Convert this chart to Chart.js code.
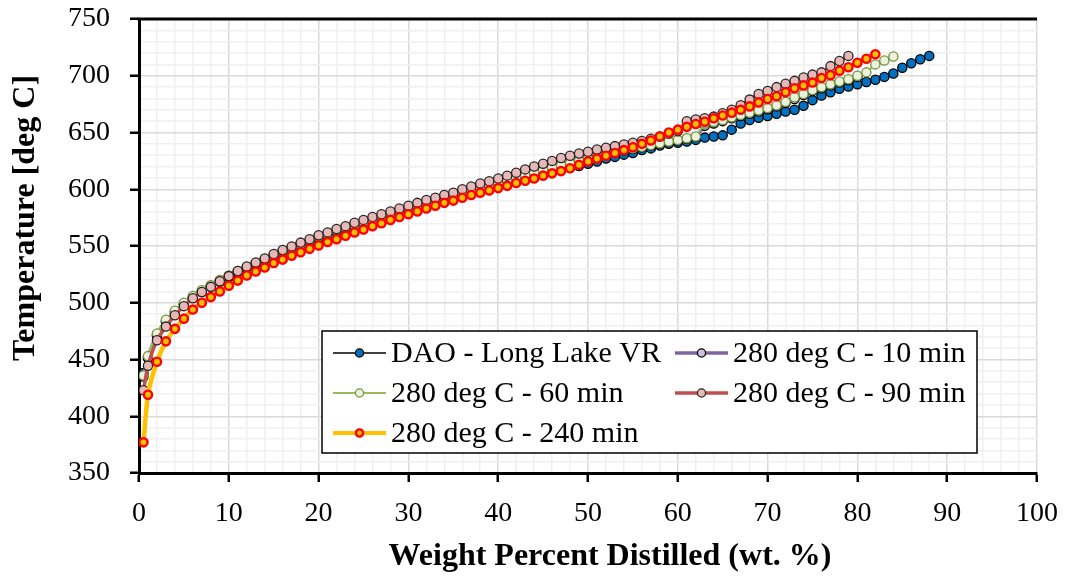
<!DOCTYPE html>
<html><head><meta charset="utf-8">
<script src="https://cdn.jsdelivr.net/npm/chart.js@4.4.1/dist/chart.umd.min.js"></script>
<style>html,body{margin:0;padding:0;background:#fff}#wrap{width:1067px;height:579px;position:relative}</style>
</head><body><div id="wrap"><canvas id="c" width="1067" height="579"></canvas></div>
<script>
// Weight percent distilled (x) shared by all series
const distilled = [0.5,1,2,3,4,5,6,7,8,9,10,11,12,13,14,15,16,17,18,19,20,21,22,23,24,25,26,27,28,29,30,31,32,33,34,35,36,37,38,39,40,41,42,43,44,45,46,47,48,49,50,51,52,53,54,55,56,57,58,59,60,61,62,63,64,65,66,67,68,69,70,71,72,73,74,75,76,77,78,79,80,81,82,83,84,85,86,87,88];

const daoLongLake = [438,451,471,483,491.5,498.5,504.5,509.5,514,518.5,522.5,526.5,530,533.5,537,540.5,544,547,550,553,556.5,559,562,564.5,567,569.5,572,574.5,577,579.5,582,584,586.5,588.5,591,593,595,597,599,601,603,605,607,609,611,613,615,617,619,620.5,622.5,624.5,627,628.5,630.5,632,634.5,636,638.5,640,641,642,643.5,645.5,646.5,647.5,652.5,658,661,663,664.5,666.5,668.5,670,673.5,678.5,682.5,685.5,688.5,690.5,692.5,694.5,696.5,699,702,707,711,714.5,717.5];

const c280min10 = [435,452,472,484,492,499,505,510,515,519.5,523.5,527.5,531,534.5,538,541.5,545,548,551.5,554.5,558,560.5,563.5,566,568.5,571,573.5,576,578.5,581,583.5,585.5,588,590,592.5,594.5,596.5,598.5,601,603,605.5,607.5,610,612,614.5,616.5,618.5,620.5,622.5,624.5,626.5,628.5,630.5,632,634,635.5,637,638.5,640,641.5,643,644.5,646,656,658,660,662.5,664.5,666.5,668.5,670.5,673,676,679.5,683,686.5,689,691.5,694,696,699];

const c280min60 = [436,453,473,485,493,500,506,511,515.5,520,524,528,531.5,535,538.5,542,545.5,548.5,552,555,558.5,561,564,566.5,569,571.5,574,576.5,579,581.5,584,586,588.5,590.5,593,595,597,599,601.5,603.5,606,608,610.5,612.5,615,617,619,621,623,625,627,629,631,632.5,634.5,636,637.5,639,640.5,642,643.5,645,646.5,658,659.5,661,663.5,665.5,667.5,669.5,671.5,674,677,681,684,687.5,690,692.5,695,697,700,703,710,713.5,717];

const c280min90 = [423,444.5,467,479,489,497,504,509.5,514,519,523.5,528,532,535.5,539,543,546.5,549.5,553,556,559.5,562,565,567.5,570.5,573,575.5,578,580.5,583,585.5,588,590.5,592.5,595,597,600,602.5,605,607,609.5,612,614.5,617.5,620,622.5,625,627.5,629.5,631.5,633,635,636.5,638,639.5,641,642.5,644.5,646.5,649,651,660,661.5,662.5,664,667,670,674,679,684,686.5,690,693,695.5,698.5,701,703,708.5,713,717.5];

const c280min240 = [377,419,448,466,477,486,494,500,505,510,515,519.5,524,527.5,531,535,538,541.5,544.5,547.5,550.5,553.5,556,559,562,564.5,567.5,570,573,575.5,578,580.5,583,585.5,588,590,592.5,595,597,599,601,603,605.5,607.5,609.5,612,614,616,618.5,621.5,624.5,627,629.5,632,634.5,637,640,643,646.5,650,652.5,655,657.5,659.5,662.5,665,667.5,670,673,676.5,679.5,682,685.5,689,691.5,694,698,700.5,704.5,707.5,711.5,715,719];

const seriesNames = ['DAO - Long Lake VR','280 deg C - 10 min','280 deg C - 60 min','280 deg C - 90 min','280 deg C - 240 min'];
const xTitle = 'Weight Percent Distilled (wt. %)';
const yTitle = 'Temperature [deg C]';

const pts = arr => arr.map((y, i) => ({x: distilled[i], y}));

const styles = [
  {line:'#000000', lw:1.5, fill:'#0070C0', border:'#000000', bw:1.3, r:4.6},
  {line:'#8064A2', lw:3.5, fill:'#CCC1DA', border:'#000000', bw:1.3, r:4.6},
  {line:'#9BBB59', lw:2.2, fill:'#EBF1DE', border:'#77933C', bw:1.3, r:4.6},
  {line:'#C0504D', lw:3.5, fill:'#E6B9B8', border:'#262626', bw:1.3, r:4.6},
  {line:'#FFC000', lw:4.5, fill:'#FFC000', border:'#FF0000', bw:2.4, r:4.1}
];
const allData = [daoLongLake, c280min10, c280min60, c280min90, c280min240];

const datasets = allData.map((d, i) => ({
  label: seriesNames[i],
  data: pts(d),
  borderColor: styles[i].line,
  borderWidth: styles[i].lw,
  pointBackgroundColor: styles[i].fill,
  pointBorderColor: styles[i].border,
  pointBorderWidth: styles[i].bw,
  pointRadius: styles[i].r,
  pointHoverRadius: styles[i].r,
  tension: 0.2,
  order: 5 - i,
  fill: false
}));

const serif = "'Times New Roman', 'Liberation Serif', serif";

const overlay = {
  id: 'overlay',
  afterDraw(chart) {
    const ctx = chart.ctx;
    const a = chart.chartArea;
    ctx.save();
    // top border
    ctx.strokeStyle = '#000'; ctx.lineWidth = 3;
    ctx.beginPath(); ctx.moveTo(a.left - 1.5, a.top); ctx.lineTo(a.right, a.top); ctx.stroke();
    // axis titles
    ctx.fillStyle = '#000';
    ctx.font = 'bold 32px ' + serif;
    ctx.textAlign = 'center'; ctx.textBaseline = 'middle';
    ctx.fillText(xTitle, 610, 557);
    ctx.save();
    ctx.translate(26, 218); ctx.rotate(-Math.PI / 2);
    ctx.fillText(yTitle, 0, 0);
    ctx.restore();
    // legend
    const bx = 322, by = 331, bw = 655, bh = 122;
    ctx.fillStyle = '#fff'; ctx.fillRect(bx, by, bw, bh);
    ctx.strokeStyle = '#000'; ctx.lineWidth = 1.5; ctx.strokeRect(bx, by, bw, bh);
    const pos = [[333,353],[675,353],[333,393],[675,393],[333,433]];
    ctx.font = '30px ' + serif; ctx.textAlign = 'left'; ctx.textBaseline = 'middle';
    pos.forEach((p, i) => {
      const s = styles[i];
      ctx.strokeStyle = s.line; ctx.lineWidth = Math.min(s.lw, 4);
      ctx.beginPath(); ctx.moveTo(p[0], p[1]); ctx.lineTo(p[0] + 53, p[1]); ctx.stroke();
      ctx.beginPath(); ctx.arc(p[0] + 26.5, p[1], s.r - 0.5, 0, Math.PI * 2);
      ctx.fillStyle = s.fill; ctx.fill();
      ctx.strokeStyle = s.border; ctx.lineWidth = s.bw; ctx.stroke();
      ctx.fillStyle = '#000';
      ctx.fillText(seriesNames[i], p[0] + 58, p[1] + 1);
    });
    ctx.restore();
  }
};

new Chart(document.getElementById('c'), {
  type: 'line',
  data: { datasets },
  options: {
    responsive: false,
    animation: false,
    devicePixelRatio: 1,
    layout: { padding: { top: 19, right: 30, bottom: 0, left: 0 } },
    plugins: { legend: { display: false }, tooltip: { enabled: false } },
    scales: {
      x: {
        type: 'linear', min: 0, max: 100,
        afterFit: s => { s.height = 106; s.paddingLeft = 0; s.paddingRight = 0; },
        border: { color: '#000', width: 3 },
        grid: {
          color: c => (c.tick && c.tick.value % 10 === 0) ? '#d9d9d9' : '#f0f0f0',
          lineWidth: 1.5,
          tickColor: c => (c.tick && c.tick.value % 10 === 0) ? '#000' : 'rgba(0,0,0,0)',
          tickWidth: 2.5, tickLength: 9
        },
        ticks: {
          stepSize: 2, autoSkip: false, maxRotation: 0, color: '#000', padding: 15,
          font: { family: serif, size: 28 },
          callback: v => (v % 10 === 0 ? String(v) : '')
        }
      },
      y: {
        type: 'linear', min: 350, max: 750,
        afterFit: s => { s.width = 139; s.paddingTop = 0; s.paddingBottom = 0; },
        border: { color: '#000', width: 3 },
        grid: {
          color: c => (c.tick && c.tick.value % 50 === 0) ? '#d9d9d9' : '#f0f0f0',
          lineWidth: 1.5,
          tickColor: c => (c.tick && c.tick.value % 50 === 0) ? '#000' : 'rgba(0,0,0,0)',
          tickWidth: 2.5, tickLength: 9
        },
        ticks: {
          stepSize: 10, autoSkip: false, color: '#000', padding: 20,
          font: { family: serif, size: 28 },
          callback: v => (v % 50 === 0 ? String(v) : '')
        }
      }
    }
  },
  plugins: [overlay]
});
</script>
</body></html>
